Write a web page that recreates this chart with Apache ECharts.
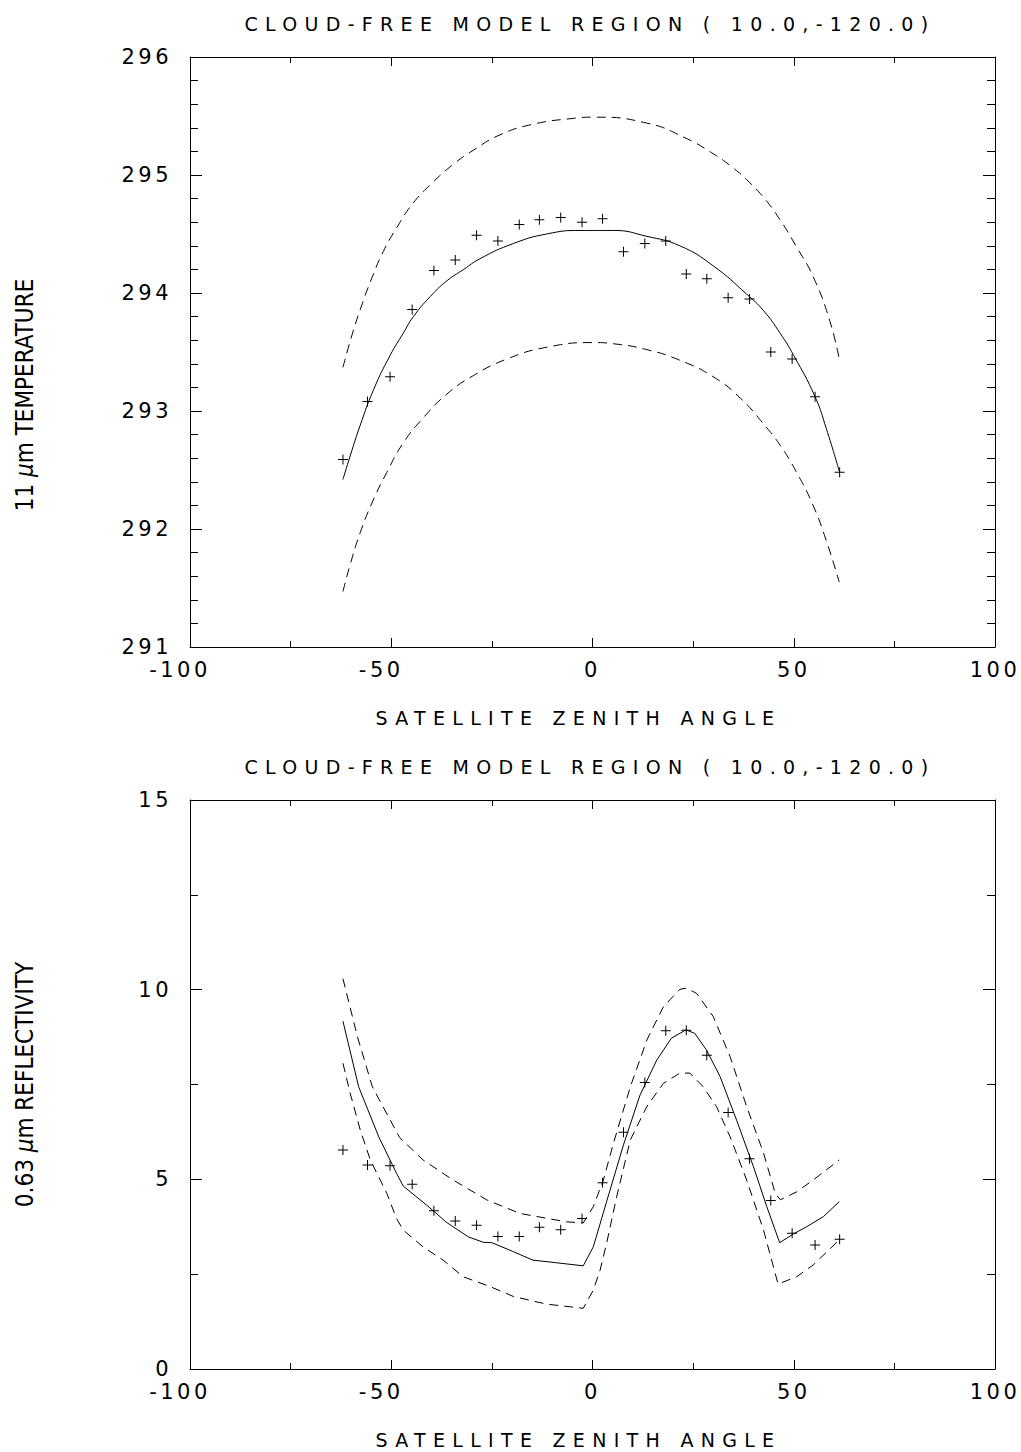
<!DOCTYPE html>
<html>
<head>
<meta charset="utf-8">
<script src="https://cdn.jsdelivr.net/npm/echarts@6/dist/echarts.min.js"></script>
<style>
html,body{margin:0;padding:0;background:#fff;}
#chart{width:1021px;height:1452px;}
</style>
</head>
<body>
<div id="chart"></div>
<script>
// ---- observations (crosses), shared satellite zenith angles ----
const obsAngle = [-62.0, -55.9, -50.3, -44.8, -39.4, -34.1, -28.8, -23.5, -18.2, -13.2, -7.9, -2.6,
                  2.5, 7.7, 13.0, 18.2, 23.3, 28.4, 33.7, 39.0, 44.3, 49.6, 55.3, 61.4];
const tempObs = [292.59, 293.08, 293.29, 293.86, 294.19, 294.28, 294.49, 294.44, 294.58, 294.62, 294.64, 294.60,
                 294.63, 294.35, 294.42, 294.44, 294.16, 294.12, 293.96, 293.95, 293.50, 293.44, 293.12, 292.48];
const reflObs = [5.77, 5.38, 5.36, 4.87, 4.17, 3.90, 3.79, 3.49, 3.49, 3.74, 3.67, 3.97,
                 4.91, 6.24, 7.55, 8.92, 8.93, 8.27, 6.76, 5.54, 4.44, 3.58, 3.27, 3.42];

// ---- 11 um temperature model ----
const tempModelX = [-62.0, -60.2, -57.7, -54.4, -50.3, -47.0, -44.5, -40.3, -36.3, -32.0, -28.0, -19.6, -11.4, -3.1,
                    5.2, 13.5, 21.7, 30.0, 38.3, 42.5, 46.6, 50.0, 55.3, 58.1, 61.3];
const tempModel = [292.42, 292.62, 292.88, 293.18, 293.47, 293.66, 293.80, 293.97, 294.10, 294.20, 294.29, 294.42, 294.50, 294.53,
                   294.53, 294.48, 294.40, 294.23, 293.99, 293.85, 293.66, 293.47, 293.12, 292.85, 292.49];
const tempUpperX = [-62.0, -59.7, -57.4, -54.9, -52.0, -48.7, -44.6, -39.6, -34.6, -29.6, -23.0, -14.8, -4.8, 0.2,
                    13.5, 23.3, 30.0, 34.2, 38.3, 42.5, 46.6, 50.7, 54.8, 58.9, 61.3];
const tempUpper = [293.37, 293.65, 293.89, 294.12, 294.35, 294.55, 294.76, 294.94, 295.09, 295.21, 295.34, 295.43, 295.48, 295.49,
                   295.44, 295.31, 295.18, 295.08, 294.96, 294.81, 294.62, 294.39, 294.14, 293.77, 293.44];
const tempLowerX = [-62.0, -60.2, -57.7, -54.8, -51.1, -47.0, -42.1, -36.3, -29.6, -21.3, -11.4, 0.2,
                    5.2, 13.5, 21.7, 30.0, 36.7, 42.5, 46.6, 50.7, 54.8, 58.1, 61.3];
const tempLower = [291.47, 291.70, 291.97, 292.22, 292.48, 292.73, 292.94, 293.14, 293.30, 293.44, 293.54, 293.58,
                   293.57, 293.52, 293.43, 293.29, 293.11, 292.89, 292.71, 292.48, 292.20, 291.90, 291.55];

// ---- 0.63 um reflectivity model ----
const reflModelX = [-62.0, -58.1, -53.1, -48.7, -47.0, -41.2, -36.2, -30.8, -27.1, -25.0, -19.6, -14.8, -8.9, -2.3,
                    0.2, 3.5, 7.7, 11.8, 16.0, 19.6, 23.2, 25.4, 28.3, 31.7, 35.8, 40.0, 43.3, 46.5,
                    49.9, 53.2, 57.4, 61.3];
const reflModel = [9.17, 7.44, 6.12, 5.16, 4.82, 4.32, 3.86, 3.48, 3.34, 3.33, 3.09, 2.87, 2.80, 2.72,
                   3.22, 4.41, 5.91, 7.22, 8.15, 8.72, 8.94, 8.85, 8.41, 7.71, 6.56, 5.33, 4.28, 3.33,
                   3.56, 3.75, 4.02, 4.41];
const reflUpperX = [-62.0, -58.4, -54.7, -50.7, -47.9, -42.1, -34.6, -26.3, -18.0, -6.5, -2.3,
                    0.2, 2.7, 5.2, 9.4, 13.5, 17.6, 21.7, 23.4, 25.9, 30.0, 34.2, 38.3, 42.5, 45.4, 46.7,
                    50.7, 54.8, 61.3];
const reflUpper = [10.29, 8.76, 7.44, 6.65, 6.10, 5.51, 4.98, 4.46, 4.10, 3.88, 3.85,
                   4.28, 4.98, 5.95, 7.44, 8.67, 9.55, 10.01, 10.04, 9.90, 9.29, 8.23, 6.92, 5.69, 4.63, 4.46,
                   4.67, 4.98, 5.51];
const reflLowerX = [-62.0, -60.2, -57.7, -55.2, -51.1, -48.7, -47.0, -42.1, -37.1, -32.1, -25.4, -19.6, -11.4, -2.3,
                    0.2, 1.9, 3.5, 6.0, 9.4, 13.5, 17.6, 21.7, 24.2, 27.5, 30.8, 34.2, 38.3, 42.5, 46.1,
                    50.7, 54.8, 61.3];
const reflLower = [8.06, 7.27, 6.30, 5.51, 4.63, 3.97, 3.66, 3.22, 2.87, 2.43, 2.17, 1.91, 1.71, 1.60,
                   2.08, 2.61, 3.31, 4.54, 6.04, 6.92, 7.53, 7.80, 7.80, 7.44, 6.92, 6.12, 4.98, 3.66, 2.24,
                   2.43, 2.74, 3.40];

const titleText = 'CLOUD-FREE MODEL REGION ( 10.0,-120.0)';
const xName = 'SATELLITE ZENITH ANGLE';

function pairs(xs, ys) { return xs.map((x, i) => [x, ys[i]]); }

const chart = echarts.init(document.getElementById('chart'), null, {renderer: 'svg'});

const ink = '#000';
const narrow = 'Liberation Sans Narrow, DejaVu Sans Condensed, sans-serif';
const tickFont = {fontFamily: 'DejaVu Sans', fontSize: 21, color: ink};
const plus = 'path://M0,4.5H10V5.5H0Z M4.5,0H5.5V10H4.5Z';

function xAxisDef(grid, pos, labels) {
  return {
    gridIndex: grid, type: 'value', min: -100, max: 100, interval: 50, position: pos,
    name: labels ? xName : '', nameLocation: 'middle', nameGap: 61,
    nameTextStyle: {fontFamily: 'DejaVu Sans', fontSize: 19, color: ink, padding: [0, 28, 0, 0]},
    axisLine: {show: true, onZero: false, lineStyle: {color: ink, width: 1}},
    axisTick: {show: true, inside: true, length: 9, lineStyle: {color: ink}},
    minorTick: {show: true, splitNumber: 2, length: 6, lineStyle: {color: ink}},
    splitLine: {show: false}, minorSplitLine: {show: false},
    axisLabel: {
      show: labels, margin: 12, ...tickFont,
      formatter: v => v < 0 ? '{n|' + v + '}' : String(v),
      rich: {n: {fontFamily: 'DejaVu Sans', fontSize: 21, color: ink, padding: [0, 20, 0, 0]}}
    }
  };
}
function yAxisDef(grid, pos, labels, min, max, interval, minorSplit, name, namePad) {
  return {
    gridIndex: grid, type: 'value', min: min, max: max, interval: interval, position: pos,
    name: labels ? name : '', nameLocation: 'middle', nameGap: 153, nameRotate: 90,
    nameTextStyle: {fontFamily: narrow, fontSize: 24, color: ink, padding: namePad,
      rich: {i: {fontFamily: narrow, fontSize: 24, fontStyle: 'italic', color: ink}}},
    axisLine: {show: true, onZero: false, lineStyle: {color: ink, width: 1}},
    axisTick: {show: true, inside: true, length: 12, lineStyle: {color: ink}},
    minorTick: {show: true, splitNumber: minorSplit, length: 8, lineStyle: {color: ink}},
    splitLine: {show: false}, minorSplitLine: {show: false},
    axisLabel: {show: labels, margin: 18, ...tickFont}
  };
}

const solid = {type: 'solid', width: 1, color: ink};
const dashed = {type: [9, 6], width: 1, color: ink};

function lineSeries(name, xi, yi, data, style, smooth) {
  return {name, type: 'line', xAxisIndex: xi, yAxisIndex: yi, data, showSymbol: false, symbol: 'none',
    smooth: smooth, lineStyle: style, silent: true, z: 2};
}
function crossSeries(name, xi, yi, data) {
  return {name, type: 'scatter', xAxisIndex: xi, yAxisIndex: yi, data, symbol: plus, symbolSize: 10,
    itemStyle: {color: ink, opacity: 1}, silent: true, z: 3};
}

const option = {
  backgroundColor: '#fff',
  animation: false,
  title: [
    {text: titleText, left: 585, top: 9, textAlign: 'center',
     textStyle: {fontFamily: 'DejaVu Sans', fontSize: 19, fontWeight: 'normal', color: ink}},
    {text: titleText, left: 585, top: 752, textAlign: 'center',
     textStyle: {fontFamily: 'DejaVu Sans', fontSize: 19, fontWeight: 'normal', color: ink}}
  ],
  grid: [
    {left: 190, top: 57, width: 805, height: 590, containLabel: false, outerBoundsMode: 'none'},
    {left: 190, top: 800, width: 805, height: 569, containLabel: false, outerBoundsMode: 'none'}
  ],
  xAxis: [xAxisDef(0, 'bottom', true), xAxisDef(0, 'top', false),
          xAxisDef(1, 'bottom', true), xAxisDef(1, 'top', false)],
  yAxis: [yAxisDef(0, 'left', true, 291, 296, 1, 5, '11 {i|μ}m TEMPERATURE', [0, 86, 0, 0]),
          yAxisDef(0, 'right', false, 291, 296, 1, 5, '', 0),
          yAxisDef(1, 'left', true, 0, 15, 5, 2, '0.63 {i|μ}m REFLECTIVITY', 0),
          yAxisDef(1, 'right', false, 0, 15, 5, 2, '', 0)],
  series: [
    lineSeries('Model', 0, 0, pairs(tempModelX, tempModel), solid, 0.5),
    lineSeries('Model +', 0, 0, pairs(tempUpperX, tempUpper), dashed, 0.5),
    lineSeries('Model -', 0, 0, pairs(tempLowerX, tempLower), dashed, 0.5),
    crossSeries('Observed', 0, 0, pairs(obsAngle, tempObs)),
    lineSeries('Model', 2, 2, pairs(reflModelX, reflModel), solid, false),
    lineSeries('Model +', 2, 2, pairs(reflUpperX, reflUpper), dashed, false),
    lineSeries('Model -', 2, 2, pairs(reflLowerX, reflLower), dashed, false),
    crossSeries('Observed', 2, 2, pairs(obsAngle, reflObs))
  ]
};

function applySpacing() {
  document.querySelectorAll('#chart svg text').forEach(t => {
    const fs = parseFloat(getComputedStyle(t).fontSize);
    let ls = 0;
    if (Math.abs(fs - 19) < 0.6) ls = 7.3;
    else if (Math.abs(fs - 21) < 0.6) ls = 3.5;
    t.style.letterSpacing = ls + 'px';
  });
}
chart.on('finished', applySpacing);
chart.setOption(option);
applySpacing();
setTimeout(applySpacing, 50);
setTimeout(applySpacing, 300);
</script>
</body>
</html>
